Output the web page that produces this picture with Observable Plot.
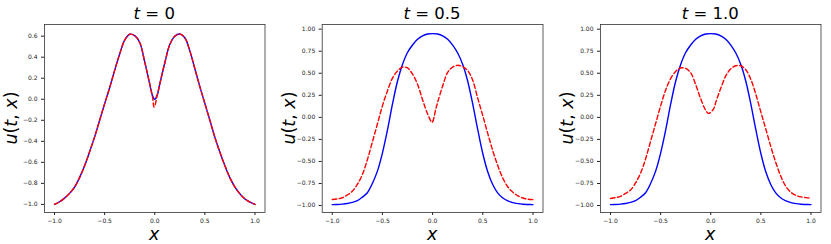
<!DOCTYPE html>
<html>
<head>
<meta charset="utf-8">
<script src="https://cdn.jsdelivr.net/npm/d3@7"></script>
<script src="https://cdn.jsdelivr.net/npm/@observablehq/plot@0.6"></script>
<style>
  html, body { margin: 0; padding: 0; background: white; }
  #fig { position: relative; width: 831px; height: 244px; overflow: hidden; }
  .panel { position: absolute; top: 0; }
</style>
</head>
<body>
<div id="fig"></div>
<script>
// ---- Data ----
// Panel t = 0
const x_t0 = [-1, -0.95, -0.9, -0.85, -0.8, -0.75, -0.7, -0.65, -0.6, -0.55, -0.5, -0.45, -0.4, -0.35, -0.3, -0.25, -0.2, -0.15, -0.1, -0.05, -0.025, 0, 0.025, 0.05, 0.1, 0.15, 0.2, 0.25, 0.3, 0.35, 0.4, 0.45, 0.5, 0.55, 0.6, 0.65, 0.7, 0.75, 0.8, 0.85, 0.9, 0.95, 1];
const exact_t0 = [-1.0, -0.975, -0.94, -0.895, -0.835, -0.745, -0.632, -0.5, -0.358, -0.2, -0.042, 0.11, 0.275, 0.43, 0.562, 0.618, 0.605, 0.54, 0.355, 0.145, 0.04, 0.0, 0.04, 0.145, 0.345, 0.52, 0.6, 0.62, 0.585, 0.46, 0.29, 0.12, -0.04, -0.2, -0.362, -0.505, -0.633, -0.748, -0.835, -0.9, -0.948, -0.978, -1.0];
const xPred_t0 = [-1, -0.95, -0.9, -0.85, -0.8, -0.75, -0.7, -0.65, -0.6, -0.55, -0.5, -0.45, -0.4, -0.35, -0.3, -0.25, -0.2, -0.15, -0.1, -0.05, -0.02, -0.008, 0.005, 0.02, 0.05, 0.1, 0.15, 0.2, 0.25, 0.3, 0.35, 0.4, 0.45, 0.5, 0.55, 0.6, 0.65, 0.7, 0.75, 0.8, 0.85, 0.9, 0.95, 1];
const pred_t0 = [-1.0, -0.975, -0.94, -0.895, -0.835, -0.745, -0.632, -0.5, -0.358, -0.2, -0.042, 0.11, 0.275, 0.43, 0.562, 0.618, 0.605, 0.54, 0.355, 0.145, 0.01, -0.075, -0.05, 0.02, 0.145, 0.345, 0.52, 0.6, 0.62, 0.585, 0.46, 0.29, 0.12, -0.04, -0.2, -0.362, -0.505, -0.633, -0.748, -0.835, -0.9, -0.948, -0.978, -1.0];

// Panel t = 0.5
const x_t05 = [-1, -0.95, -0.9, -0.85, -0.8, -0.75, -0.7, -0.65, -0.6, -0.55, -0.5, -0.45, -0.4, -0.35, -0.3, -0.25, -0.2, -0.15, -0.1, -0.05, 0, 0.05, 0.1, 0.15, 0.2, 0.25, 0.3, 0.35, 0.4, 0.45, 0.5, 0.55, 0.6, 0.65, 0.7, 0.75, 0.8, 0.85, 0.9, 0.95, 1];
const exact_t05 = [-0.99, -0.988, -0.984, -0.977, -0.965, -0.945, -0.905, -0.855, -0.75, -0.61, -0.405, -0.145, 0.15, 0.41, 0.6, 0.735, 0.82, 0.885, 0.925, 0.945, 0.95, 0.945, 0.925, 0.885, 0.82, 0.73, 0.6, 0.41, 0.15, -0.14, -0.41, -0.62, -0.765, -0.86, -0.915, -0.948, -0.967, -0.978, -0.985, -0.988, -0.99];
const xPred_t05 = [-1, -0.95, -0.9, -0.85, -0.8, -0.75, -0.7, -0.65, -0.6, -0.55, -0.5, -0.45, -0.4, -0.35, -0.3, -0.25, -0.2, -0.15, -0.1, -0.05, -0.005, 0.03, 0.05, 0.1, 0.15, 0.2, 0.25, 0.3, 0.35, 0.4, 0.45, 0.5, 0.55, 0.6, 0.65, 0.7, 0.75, 0.8, 0.85, 0.9, 0.95, 1];
const pred_t05 = [-0.932, -0.925, -0.912, -0.88, -0.838, -0.76, -0.65, -0.48, -0.28, -0.075, 0.13, 0.3, 0.445, 0.525, 0.57, 0.56, 0.49, 0.375, 0.2, 0.04, -0.055, 0.085, 0.17, 0.355, 0.51, 0.57, 0.59, 0.575, 0.53, 0.42, 0.215, 0.02, -0.185, -0.38, -0.55, -0.69, -0.79, -0.85, -0.89, -0.915, -0.928, -0.933];

// Panel t = 1.0
const x_t10 = [-1, -0.95, -0.9, -0.85, -0.8, -0.75, -0.7, -0.65, -0.6, -0.55, -0.5, -0.45, -0.4, -0.35, -0.3, -0.25, -0.2, -0.15, -0.1, -0.05, 0, 0.05, 0.1, 0.15, 0.2, 0.25, 0.3, 0.35, 0.4, 0.45, 0.5, 0.55, 0.6, 0.65, 0.7, 0.75, 0.8, 0.85, 0.9, 0.95, 1];
const exact_t10 = [-0.99, -0.988, -0.984, -0.977, -0.965, -0.945, -0.905, -0.855, -0.75, -0.61, -0.405, -0.145, 0.15, 0.41, 0.6, 0.735, 0.82, 0.885, 0.925, 0.945, 0.95, 0.945, 0.925, 0.885, 0.82, 0.73, 0.6, 0.41, 0.15, -0.14, -0.41, -0.62, -0.765, -0.86, -0.915, -0.948, -0.967, -0.978, -0.985, -0.988, -0.99];
const xPred_t10 = [-1, -0.95, -0.9, -0.85, -0.8, -0.75, -0.7, -0.65, -0.6, -0.55, -0.5, -0.45, -0.4, -0.35, -0.3, -0.25, -0.2, -0.15, -0.1, -0.05, -0.02, 0.03, 0.05, 0.1, 0.15, 0.2, 0.25, 0.3, 0.35, 0.4, 0.45, 0.5, 0.55, 0.6, 0.65, 0.7, 0.75, 0.8, 0.85, 0.9, 0.95, 1];
const pred_t10 = [-0.92, -0.91, -0.895, -0.862, -0.825, -0.743, -0.632, -0.47, -0.27, -0.07, 0.13, 0.31, 0.44, 0.52, 0.56, 0.555, 0.505, 0.37, 0.21, 0.08, 0.045, 0.1, 0.17, 0.33, 0.47, 0.55, 0.585, 0.585, 0.54, 0.43, 0.26, 0.06, -0.135, -0.335, -0.515, -0.67, -0.785, -0.85, -0.885, -0.902, -0.91, -0.915];

// Tick labels
const xTicks = [-1, -0.5, 0, 0.5, 1];
const yTicks_t0 = [-1.0, -0.8, -0.6, -0.4, -0.2, 0.0, 0.2, 0.4, 0.6];
const yTicks_t = [-1.0, -0.75, -0.5, -0.25, 0.0, 0.25, 0.5, 0.75, 1.0];
const titles = ["0", "0.5", "1.0"];

const toRows = (xs, us) => xs.map((x, i) => ({x, u: us[i]}));

const panels = [
  {left: 0, width: 277, ml: 44, mr: 12.5, yDomain: [-1.077, 0.711], yTicks: yTicks_t0, yFmt: ".1f",
   exact: toRows(x_t0, exact_t0), pred: toRows(xPred_t0, pred_t0), title: titles[0]},
  {left: 277, width: 277, ml: 44.7, mr: 11.5, yDomain: [-1.079, 1.053], yTicks: yTicks_t, yFmt: ".2f",
   exact: toRows(x_t05, exact_t05), pred: toRows(xPred_t05, pred_t05), title: titles[1]},
  {left: 554, width: 277, ml: 46, mr: 10.5, yDomain: [-1.079, 1.053], yTicks: yTicks_t, yFmt: ".2f",
   exact: toRows(x_t10, exact_t10), pred: toRows(xPred_t10, pred_t10), title: titles[2]}
];

const fig = document.getElementById("fig");
const MT = 24, MB = 32, H = 244;

for (const p of panels) {
  const svg = Plot.plot({
    width: p.width, height: H,
    marginLeft: p.ml, marginRight: p.mr, marginTop: MT, marginBottom: MB,
    style: {fontFamily: "DejaVu Sans", background: "white", color: "#222"},
    x: {domain: [-1.1, 1.1]},
    y: {domain: p.yDomain},
    marks: [
      Plot.axisX({ticks: xTicks, tickFormat: d3.format(".1f"), tickSize: 3, tickPadding: 3, fontSize: 6, label: null}),
      Plot.axisY({ticks: p.yTicks, tickFormat: d3.format(p.yFmt), tickSize: 3, tickPadding: 4, fontSize: 6, label: null}),
      Plot.line(p.exact, {x: "x", y: "u", stroke: "#0000ff", strokeWidth: 1.4, curve: "catmull-rom"}),
      Plot.line(p.pred, {x: "x", y: "u", stroke: "#ff0000", strokeWidth: 1.4, strokeDasharray: "4.5,2.5", curve: "catmull-rom"}),
      Plot.frame({stroke: "#333", strokeWidth: 0.8})
    ]
  });
  const div = document.createElement("div");
  div.className = "panel";
  div.style.left = p.left + "px";
  div.appendChild(svg);
  fig.appendChild(div);

  const s = d3.select(svg);
  const cx = p.ml + (p.width - p.ml - p.mr) / 2;
  const cy = MT + (H - MT - MB) / 2;
  // Title  t = value
  const t = s.append("text").attr("x", cx).attr("y", 19).attr("text-anchor", "middle")
    .attr("font-size", 16.5).attr("fill", "#000");
  t.append("tspan").attr("font-style", "italic").text("t");
  t.append("tspan").text(" = " + p.title);
  // y label u(t, x)
  const yl = s.append("text").attr("text-anchor", "middle").attr("font-size", 17.5).attr("fill", "#000")
    .attr("transform", `translate(${p.ml - 27},${cy}) rotate(-90)`);
  yl.append("tspan").attr("font-style", "italic").text("u");
  yl.append("tspan").text("(");
  yl.append("tspan").attr("font-style", "italic").text("t");
  yl.append("tspan").text(", ");
  yl.append("tspan").attr("font-style", "italic").text("x");
  yl.append("tspan").text(")");
  // x label
  s.append("text").attr("x", cx).attr("y", 240).attr("text-anchor", "middle")
    .attr("font-size", 17.5).attr("font-style", "italic").attr("fill", "#000").text("x");
}
</script>
</body>
</html>
